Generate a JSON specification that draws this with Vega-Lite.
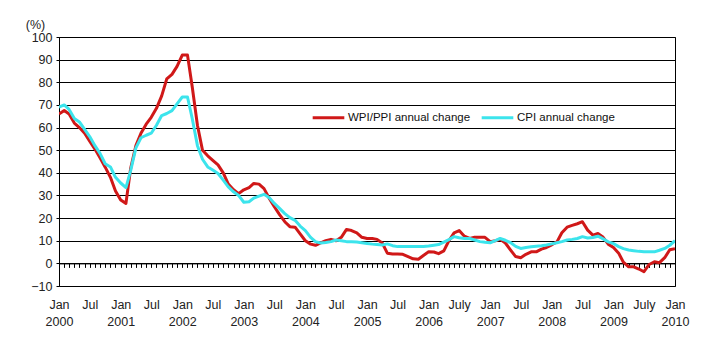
{
  "$schema": "https://vega.github.io/schema/vega-lite/v6.json",
  "width": 616,
  "height": 249,
  "autosize": {"type": "none"},
  "padding": {"left": 59, "top": 37, "right": 47, "bottom": 67},
  "background": "white",
  "config": {
    "font": "Liberation Sans",
    "view": {"stroke": "#000", "strokeWidth": 1},
    "axis": {"labelFont": "Liberation Sans", "labelFontSize": 12.5, "labelColor": "#222", "titleFont": "Liberation Sans"}
  },
  "data": {
    "values": [
      {"d":"2000-01-01","w":66,"c":69},{"d":"2000-02-01","w":67.5,"c":70},{"d":"2000-03-01","w":66,"c":68},{"d":"2000-04-01","w":62,"c":64},{"d":"2000-05-01","w":60,"c":62.5},{"d":"2000-06-01","w":57.5,"c":59.2},{"d":"2000-07-01","w":54,"c":56},{"d":"2000-08-01","w":50.5,"c":52},{"d":"2000-09-01","w":46.5,"c":48.5},{"d":"2000-10-01","w":42.5,"c":44},{"d":"2000-11-01","w":38,"c":42.6},{"d":"2000-12-01","w":32,"c":38},
      {"d":"2001-01-01","w":28,"c":35.5},{"d":"2001-02-01","w":26.5,"c":33.5},{"d":"2001-03-01","w":42,"c":41},{"d":"2001-04-01","w":52,"c":51},{"d":"2001-05-01","w":57.5,"c":55.5},{"d":"2001-06-01","w":61.5,"c":56.6},{"d":"2001-07-01","w":64.5,"c":57.5},{"d":"2001-08-01","w":68.5,"c":61},{"d":"2001-09-01","w":74,"c":65.3},{"d":"2001-10-01","w":81.5,"c":66.2},{"d":"2001-11-01","w":83.5,"c":67.5},{"d":"2001-12-01","w":87,"c":70.5},
      {"d":"2002-01-01","w":92,"c":73.5},{"d":"2002-02-01","w":92,"c":73.5},{"d":"2002-03-01","w":78,"c":64},{"d":"2002-04-01","w":61,"c":52},{"d":"2002-05-01","w":50,"c":46},{"d":"2002-06-01","w":47.5,"c":42.6},{"d":"2002-07-01","w":45.5,"c":41.2},{"d":"2002-08-01","w":43.5,"c":39.7},{"d":"2002-09-01","w":40,"c":36.8},{"d":"2002-10-01","w":35,"c":33.8},{"d":"2002-11-01","w":32.5,"c":31.6},{"d":"2002-12-01","w":30.8,"c":30},
      {"d":"2003-01-01","w":32.5,"c":27},{"d":"2003-02-01","w":33.5,"c":27.2},{"d":"2003-03-01","w":35.3,"c":28.8},{"d":"2003-04-01","w":35,"c":29.7},{"d":"2003-05-01","w":33,"c":30.5},{"d":"2003-06-01","w":28.7,"c":29},{"d":"2003-07-01","w":25,"c":26.5},{"d":"2003-08-01","w":21.5,"c":24.3},{"d":"2003-09-01","w":18.4,"c":22},{"d":"2003-10-01","w":16.2,"c":20.2},{"d":"2003-11-01","w":16,"c":19},{"d":"2003-12-01","w":13,"c":16.5},
      {"d":"2004-01-01","w":10,"c":14.5},{"d":"2004-02-01","w":8.5,"c":11.5},{"d":"2004-03-01","w":8,"c":9.6},{"d":"2004-04-01","w":9,"c":9},{"d":"2004-05-01","w":10,"c":9.2},{"d":"2004-06-01","w":10.6,"c":9.6},{"d":"2004-07-01","w":10,"c":10.3},{"d":"2004-08-01","w":11.5,"c":10},{"d":"2004-09-01","w":15,"c":9.6},{"d":"2004-10-01","w":14.5,"c":9.6},{"d":"2004-11-01","w":13.5,"c":9.4},{"d":"2004-12-01","w":11.5,"c":9.1},
      {"d":"2005-01-01","w":11,"c":8.8},{"d":"2005-02-01","w":11,"c":8.5},{"d":"2005-03-01","w":10.6,"c":8.3},{"d":"2005-04-01","w":9,"c":8.1},{"d":"2005-05-01","w":4.5,"c":8.6},{"d":"2005-06-01","w":4.1,"c":7.8},{"d":"2005-07-01","w":4.1,"c":7.4},{"d":"2005-08-01","w":4,"c":7.4},{"d":"2005-09-01","w":3,"c":7.4},{"d":"2005-10-01","w":2,"c":7.4},{"d":"2005-11-01","w":1.8,"c":7.4},{"d":"2005-12-01","w":3.5,"c":7.5},
      {"d":"2006-01-01","w":5.1,"c":7.7},{"d":"2006-02-01","w":5,"c":8},{"d":"2006-03-01","w":4.3,"c":8.3},{"d":"2006-04-01","w":5.5,"c":9.4},{"d":"2006-05-01","w":10,"c":10.5},{"d":"2006-06-01","w":13.5,"c":11.8},{"d":"2006-07-01","w":14.5,"c":11.3},{"d":"2006-08-01","w":12,"c":11},{"d":"2006-09-01","w":11,"c":11},{"d":"2006-10-01","w":11.5,"c":10.3},{"d":"2006-11-01","w":11.5,"c":9.6},{"d":"2006-12-01","w":11.5,"c":9.3},
      {"d":"2007-01-01","w":9.6,"c":9.1},{"d":"2007-02-01","w":10,"c":10},{"d":"2007-03-01","w":10.6,"c":11},{"d":"2007-04-01","w":9,"c":10.2},{"d":"2007-05-01","w":6,"c":9.2},{"d":"2007-06-01","w":3,"c":7.5},{"d":"2007-07-01","w":2.5,"c":6.6},{"d":"2007-08-01","w":4,"c":7},{"d":"2007-09-01","w":5.1,"c":7.3},{"d":"2007-10-01","w":5.1,"c":7.6},{"d":"2007-11-01","w":6.3,"c":7.8},{"d":"2007-12-01","w":7,"c":8.1},
      {"d":"2008-01-01","w":8.2,"c":8.6},{"d":"2008-02-01","w":9.5,"c":9.1},{"d":"2008-03-01","w":13.5,"c":9.6},{"d":"2008-04-01","w":16,"c":10.3},{"d":"2008-05-01","w":16.8,"c":10.6},{"d":"2008-06-01","w":17.5,"c":11},{"d":"2008-07-01","w":18.4,"c":11.8},{"d":"2008-08-01","w":14.7,"c":11.2},{"d":"2008-09-01","w":12.5,"c":11.4},{"d":"2008-10-01","w":13.2,"c":12},{"d":"2008-11-01","w":11.5,"c":10.8},{"d":"2008-12-01","w":8.5,"c":9.5},
      {"d":"2009-01-01","w":7,"c":8.8},{"d":"2009-02-01","w":4.5,"c":7.4},{"d":"2009-03-01","w":0.5,"c":6.5},{"d":"2009-04-01","w":-1.5,"c":5.9},{"d":"2009-05-01","w":-1.5,"c":5.6},{"d":"2009-06-01","w":-2.5,"c":5.3},{"d":"2009-07-01","w":-3.7,"c":5.1},{"d":"2009-08-01","w":-0.5,"c":5.1},{"d":"2009-09-01","w":0.7,"c":5.1},{"d":"2009-10-01","w":0.3,"c":5.8},{"d":"2009-11-01","w":2.5,"c":6.6},{"d":"2009-12-01","w":6,"c":8},
      {"d":"2010-01-01","w":6.5,"c":10}
    ]
  },
  "transform": [{"fold": ["w", "c"], "as": ["series", "value"]}],
  "mark": {"type": "line", "strokeWidth": 3, "strokeJoin": "round", "clip": true},
  "encoding": {
    "x": {
      "field": "d", "type": "temporal",
      "scale": {"type": "utc", "domain": ["2000-01-01", "2010-01-01"], "nice": false},
      "axis": {
        "title": null,
        "orient": "bottom",
        "offset": -22.6,
        "grid": false,
        "domainColor": "#000",
        "tickColor": "#000",
        "tickSize": 4,
        "tickCount": {"interval": "month", "step": 1},
        "labelOverlap": false,
        "labelFlush": false,
        "labelPadding": 31,
        "labelLineHeight": 17,
        "labelExpr": "utcmonth(datum.value) == 0 ? ['Jan', '' + utcyear(datum.value)] : (utcmonth(datum.value) == 6 ? ((utcyear(datum.value) == 2006 || utcyear(datum.value) == 2009) ? 'July' : 'Jul') : '')"
      }
    },
    "y": {
      "field": "value", "type": "quantitative",
      "scale": {"domain": [-10, 100], "nice": false, "zero": false},
      "axis": {
        "values": [-10, 0, 10, 20, 30, 40, 50, 60, 70, 80, 90, 100],
        "grid": true,
        "gridColor": "#000",
        "gridOpacity": 1,
        "domainColor": "#000",
        "tickColor": "#000",
        "tickSize": 3,
        "labelPadding": 4,
        "title": "(%)",
        "titleAngle": 0,
        "titleFontSize": 12.5,
        "titleFontWeight": "normal",
        "titleColor": "#222",
        "titleAlign": "center",
        "titleBaseline": "middle",
        "titleX": -24,
        "titleY": -13
      }
    },
    "color": {
      "field": "series", "type": "nominal",
      "scale": {"domain": ["w", "c"], "range": ["#d01818", "#3ce4ec"]},
      "legend": {
        "title": null,
        "orient": "none",
        "legendX": 252,
        "legendY": 63,
        "direction": "horizontal",
        "symbolType": "stroke",
        "symbolSize": 1000,
        "symbolStrokeWidth": 3,
        "labelFont": "Liberation Sans",
        "labelFontSize": 11.5,
        "labelColor": "#111",
        "labelOffset": 2,
        "columnPadding": 4,
        "labelExpr": "datum.value == 'w' ? 'WPI/PPI annual change' : 'CPI annual change'"
      }
    },
    "order": {"field": "series", "sort": "descending"}
  }
}
